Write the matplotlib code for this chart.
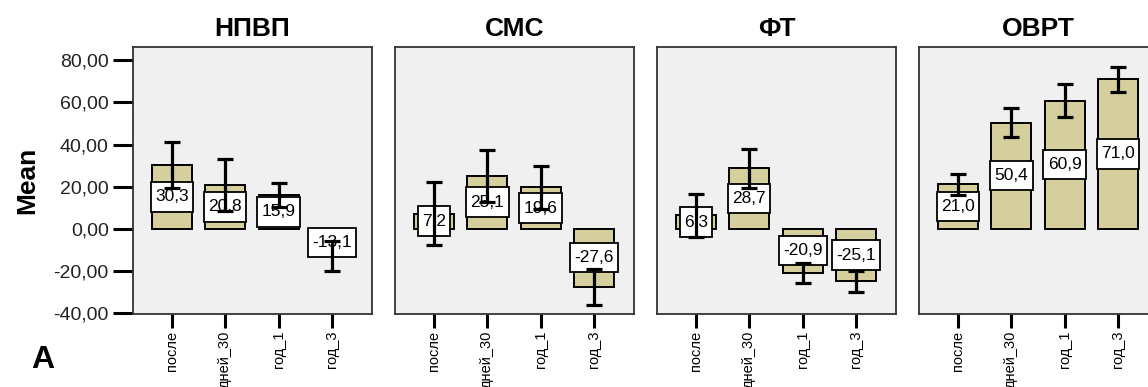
import numpy as np
import matplotlib
matplotlib.use('Agg')
import matplotlib.pyplot as plt
from matplotlib.path import Path
from matplotlib.ticker import MultipleLocator, FuncFormatter

plt.rcParams['font.family'] = ['Liberation Sans', 'DejaVu Sans']

# data
groups = ['НПВП', 'СМС', 'ФТ', 'ОВРТ']
categories = ['после', 'дней_30', 'год_1', 'год_3']
mean_npvp = [30.3, 20.8, 15.9, -13.1]
mean_sms = [7.2, 25.1, 19.6, -27.6]
mean_ft = [6.3, 28.7, -20.9, -25.1]
mean_ovrt = [21.0, 50.4, 60.9, 71.0]
err_npvp = [10.8, 12.2, 5.8, 7.1]
err_sms = [14.8, 12.4, 10.1, 8.6]
err_ft = [10.2, 9.3, 4.7, 4.8]
err_ovrt = [4.8, 7.0, 7.9, 6.0]

means = [mean_npvp, mean_sms, mean_ft, mean_ovrt]
errs = [err_npvp, err_sms, err_ft, err_ovrt]

bar_color = '#d4cf9c'
face = '#f0f0f0'


def label_box(x0, y0, width, height, mutation_size):
    # spss style label box: little side padding, tall
    px = 0.25 * mutation_size
    py = 0.42 * mutation_size
    x0, y0 = x0 - px, y0 - py
    x1, y1 = x0 + width + 2 * px, y0 + height + 2 * py
    return Path([(x0, y0), (x1, y0), (x1, y1), (x0, y1), (x0, y0)], closed=True)


fig = plt.figure(figsize=(11.48, 3.87), dpi=100)

W, H = 1148.0, 387.0
left0 = 133
step = 262
pw, ph = 239, 267
bottom_px = 314.3

idx = np.arange(len(categories))

for k in range(4):
    ax = fig.add_axes([(left0 + k * step) / W, (H - bottom_px) / H, pw / W, ph / H])
    ax.set_facecolor(face)
    m = means[k]
    e = errs[k]

    ax.bar(idx, m, 0.75, color=bar_color, edgecolor='black', linewidth=1.4, zorder=2)
    for i in range(len(m)):
        ax.text(idx[i], m[i] / 2.0, ('%.1f' % m[i]).replace('.', ','),
                ha='center', va='center', fontsize=12.5, zorder=3,
                bbox=dict(boxstyle=label_box, fc='white', ec='black', lw=1.3))
    ax.errorbar(idx, m, yerr=e, fmt='none', ecolor='black', elinewidth=2.3,
                capsize=5.5, capthick=2.3, zorder=4)

    ax.set_xlim(-0.73, 3.75)
    ax.set_ylim(-40.7, 86.2)
    ax.set_xticks(idx)
    ax.set_xticklabels(categories, rotation=90, va='top', fontsize=10.5)
    ax.tick_params(axis='x', length=10, width=2.2, pad=2)
    for s in ax.spines.values():
        s.set_color('#333333')
        s.set_linewidth(1.3)
    ax.set_title(groups[k], fontsize=19, fontweight='bold', pad=8)

    if k == 0:
        ax.yaxis.set_major_locator(MultipleLocator(20))
        ax.yaxis.set_major_formatter(FuncFormatter(lambda v, p: ('%.2f' % v).replace('.', ',')))
        ax.tick_params(axis='y', length=14.5, width=2.2, pad=3, labelsize=14, labelcolor='#222222')
        ax.set_ylabel('Mean', fontsize=19, fontweight='bold', labelpad=10)
    else:
        ax.set_yticks([])

fig.text(43 / W, 1 - 360 / H, 'A', fontsize=23, fontweight='bold', ha='center', va='center',
         family=['Liberation Sans Narrow', 'Liberation Sans', 'DejaVu Sans'])

fig.savefig('out.png', dpi=100)
